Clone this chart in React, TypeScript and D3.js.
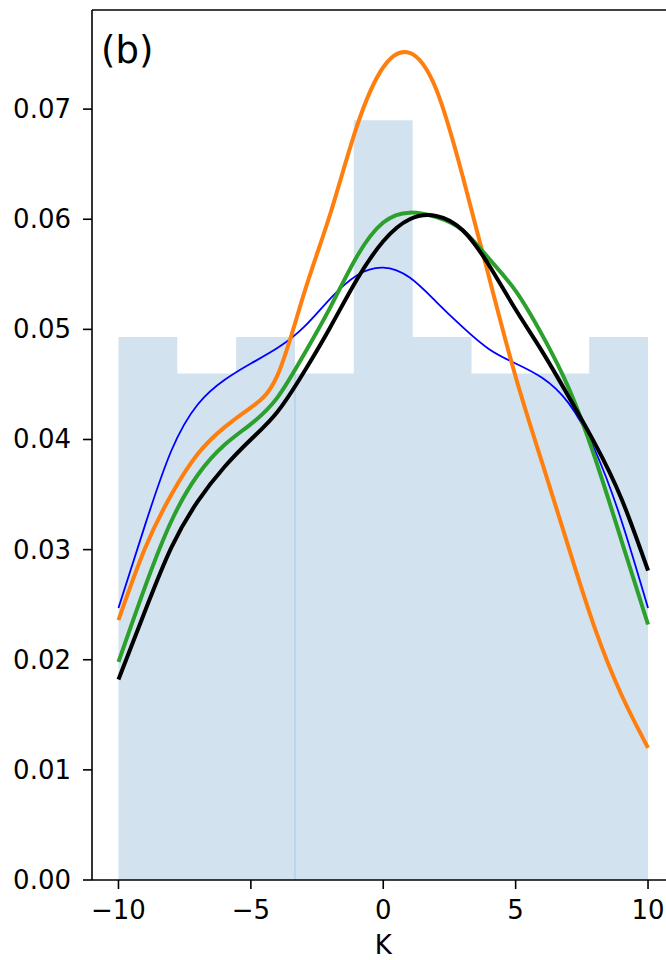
import React from "react";
import * as d3 from "d3";

const binEdges = [-10, -7.7778, -5.5556, -3.3333, -1.1111, 1.1111, 3.3333, 5.5556, 7.7778, 10];
const binHeights = [0.0493, 0.046, 0.0493, 0.046, 0.069, 0.0493, 0.046, 0.046, 0.0493];

const kGrid = [-10, -9, -8, -7, -6, -5, -4, -3, -2, -1, 0, 1, 2, 3, 4, 5, 6, 7, 8, 9, 10];
const blueKde = [0.0247, 0.0322, 0.039, 0.0432, 0.0454, 0.0469, 0.0483, 0.0502, 0.0528, 0.0549, 0.0556, 0.0547, 0.0525, 0.0502, 0.0482, 0.0469, 0.0456, 0.0433, 0.039, 0.0326, 0.0247];
const orangeKde = [0.0236, 0.0301, 0.035, 0.0387, 0.0411, 0.0429, 0.0458, 0.0532, 0.0605, 0.0684, 0.0738, 0.0751, 0.0718, 0.0639, 0.0547, 0.0457, 0.0379, 0.0302, 0.0228, 0.0168, 0.012];
const greenKde = [0.0198, 0.0266, 0.0326, 0.0368, 0.0395, 0.0414, 0.0438, 0.0477, 0.052, 0.0566, 0.0597, 0.0606, 0.0602, 0.059, 0.0564, 0.0535, 0.0495, 0.0447, 0.0383, 0.0308, 0.0232];
const blackKde = [0.0182, 0.0244, 0.0302, 0.0344, 0.0375, 0.04, 0.0425, 0.0461, 0.0502, 0.0545, 0.058, 0.06, 0.0603, 0.059, 0.0558, 0.0518, 0.048, 0.0439, 0.0396, 0.0346, 0.0281];

const xTicks = [-10, -5, 0, 5, 10];
const yTicks = [0, 0.01, 0.02, 0.03, 0.04, 0.05, 0.06, 0.07];

const series = [
  { values: blueKde, color: "#0000ff", width: 1.8 },
  { values: orangeKde, color: "#ff7f0e", width: 4 },
  { values: greenKde, color: "#2ca02c", width: 4 },
  { values: blackKde, color: "#000000", width: 4 },
];

const W = 666;
const H = 960;
const left = 92;
const right = 674.5;
const top = 10;
const bottom = 880;

export default function App() {
  const x = d3.scaleLinear().domain([-11, 11]).range([left, right]);
  const y = d3.scaleLinear().domain([0, 0.079]).range([bottom, top]);
  const line = d3
    .line<[number, number]>()
    .x((d) => x(d[0]))
    .y((d) => y(d[1]))
    .curve(d3.curveNatural);
  const hist = d3
    .area<[number, number]>()
    .x((d) => x(d[0]))
    .y0(y(0))
    .y1((d) => y(d[1]))
    .curve(d3.curveStepAfter);
  const histPts: [number, number][] = binEdges.map((e, i) => [
    e,
    binHeights[Math.min(i, binHeights.length - 1)],
  ]);
  const font = "DejaVu Sans, sans-serif";
  const edgeIdx = 3;
  return (
    <svg
      width={W}
      height={H}
      style={{ position: "absolute", left: 0, top: 0, display: "block", background: "#fff" }}
    >
      <defs>
        <clipPath id="plot">
          <rect x={left} y={top} width={right - left} height={bottom - top} />
        </clipPath>
      </defs>
      <g clipPath="url(#plot)">
        <path d={hist(histPts) || ""} fill="#d2e3ef" />
        <line
          x1={x(binEdges[edgeIdx])}
          x2={x(binEdges[edgeIdx])}
          y1={y(Math.min(binHeights[edgeIdx - 1], binHeights[edgeIdx]))}
          y2={y(0)}
          stroke="#a6c8e8"
          strokeWidth={1}
        />
        {series.map((s, i) => (
          <path
            key={i}
            d={line(kGrid.map((k, j) => [k, s.values[j]] as [number, number])) || ""}
            fill="none"
            stroke={s.color}
            strokeWidth={s.width}
            strokeLinejoin="round"
          />
        ))}
      </g>
      {/* spines */}
      <line x1={left} x2={left} y1={top} y2={bottom} stroke="#000" strokeWidth={1.6} />
      <line x1={left} x2={W} y1={bottom} y2={bottom} stroke="#000" strokeWidth={1.6} />
      <line x1={left} x2={W} y1={top} y2={top} stroke="#000" strokeWidth={1.6} />
      {/* y ticks */}
      {yTicks.map((t) => (
        <g key={t}>
          <line x1={left - 9} x2={left} y1={y(t)} y2={y(t)} stroke="#000" strokeWidth={1.6} />
          <text
            x={left - 21}
            y={y(t)}
            textAnchor="end"
            dominantBaseline="central"
            fontFamily={font}
            fontSize={26}
            fill="#000"
          >
            {t.toFixed(2)}
          </text>
        </g>
      ))}
      {/* x ticks */}
      {xTicks.map((t) => (
        <g key={t}>
          <line x1={x(t)} x2={x(t)} y1={bottom} y2={bottom + 9} stroke="#000" strokeWidth={1.6} />
          <text
            x={x(t)}
            y={bottom + 39}
            textAnchor="middle"
            fontFamily={font}
            fontSize={26}
            fill="#000"
          >
            {t < 0 ? "\u2212" + Math.abs(t) : String(t)}
          </text>
        </g>
      ))}
      <text x={x(0)} y={bottom + 74} textAnchor="middle" fontFamily={font} fontSize={26} fill="#000">
        K
      </text>
      <text x={left + 9} y={top + 53} fontFamily={font} fontSize={37} fill="#000">
        (b)
      </text>
    </svg>
  );
}
